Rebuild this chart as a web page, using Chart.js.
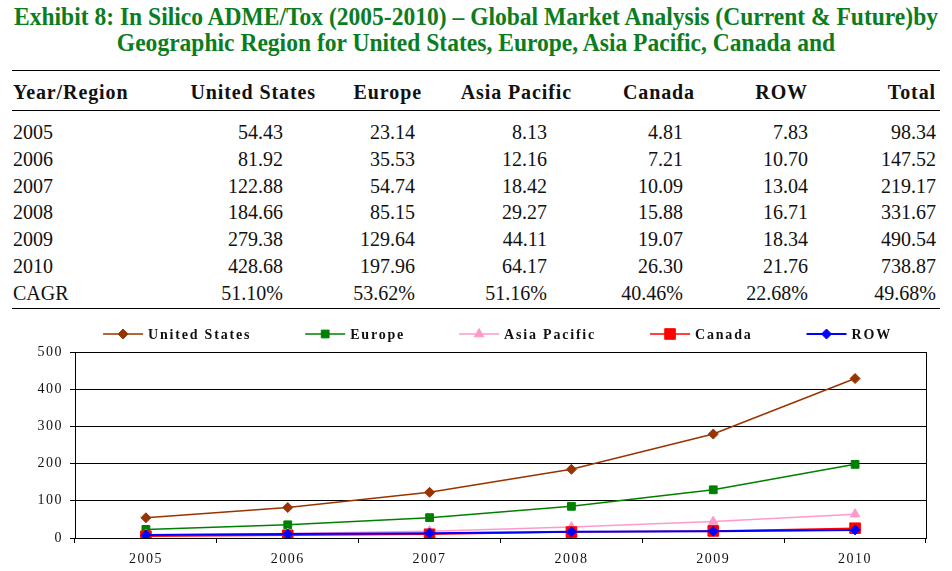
<!DOCTYPE html>
<html>
<head>
<meta charset="utf-8">
<script src="https://cdn.jsdelivr.net/npm/chart.js@4.4.0/dist/chart.umd.min.js"></script>
<style>
  body { margin: 0; background: #fff; width: 952px; height: 571px; overflow: hidden; position: relative; }
  .serif, .title, .cell { font-family: "Liberation Serif", "Times New Roman", Times, "DejaVu Serif", serif; }
  .title { position: absolute; left: 476px; color: #0b7d1f; font-weight: bold; font-size: 26px; line-height: 30px; white-space: nowrap; transform-origin: center; transform: translateX(-50%); }
  .rule { position: absolute; left: 12px; width: 928px; height: 1px; background: #000; }
  .cell { position: absolute; font-size: 20px; line-height: 24px; white-space: nowrap; color: #111; }
  .head { font-weight: bold; letter-spacing: 0.9px; }
  #wrap { position: absolute; left: 0; top: 318px; width: 952px; height: 253px; }
</style>
</head>
<body>
<div class="title" id="t1" style="top:2px">Exhibit 8: In Silico ADME/Tox (2005-2010) – Global Market Analysis (Current &amp; Future)by</div>
<div class="title" id="t2" style="top:28px">Geographic Region for United States, Europe, Asia Pacific, Canada and</div>
<div class="rule" style="top:70px"></div>
<div class="rule" style="top:110px"></div>
<div class="rule" style="top:308px"></div>
<div id="table"></div>
<div id="wrap"><canvas id="chart"></canvas></div>

<script>
// data
const years = ['2005', '2006', '2007', '2008', '2009', '2010'];
const regions = ['United States', 'Europe', 'Asia Pacific', 'Canada', 'ROW'];
const unitedStates = [54.43, 81.92, 122.88, 184.66, 279.38, 428.68];
const europe = [23.14, 35.53, 54.74, 85.15, 129.64, 197.96];
const asiaPacific = [8.13, 12.16, 18.42, 29.27, 44.11, 64.17];
const canada = [4.81, 7.21, 10.09, 15.88, 19.07, 26.30];
const restOfWorld = [7.83, 10.70, 13.04, 16.71, 18.34, 21.76];
const totals = [98.34, 147.52, 219.17, 331.67, 490.54, 738.87];
const cagr = ['51.10%', '53.62%', '51.16%', '40.46%', '22.68%', '49.68%'];
const yMax = 500;
const yStep = 100;

// squeeze the title to the width it has in the picture
const t1 = document.getElementById('t1');
const t2 = document.getElementById('t2');
const k = 924 / t1.getBoundingClientRect().width;
t1.style.transform = 'translateX(-50%) scaleX(' + k + ')';
t2.style.transform = 'translateX(-50%) scaleX(' + k + ')';

// table
const table = document.getElementById('table');
const headRight = [316, 422, 572, 695, 808, 936];
const valRight = [283, 415, 547, 683, 808, 936];
function addCell(text, top, opts) {
    const d = document.createElement('div');
    d.className = 'cell' + (opts.head ? ' head' : '');
    d.textContent = text;
    d.style.top = top + 'px';
    if (opts.left != null) d.style.left = opts.left + 'px';
    else d.style.right = (952 - opts.right) + 'px';
    table.appendChild(d);
}
addCell('Year/Region', 80, { head: true, left: 13 });
regions.concat(['Total']).forEach((r, i) => addCell(r, 80, { head: true, right: headRight[i] }));
const cols = [unitedStates, europe, asiaPacific, canada, restOfWorld, totals];
years.forEach((y, r) => {
    const top = 120 + r * 26.8;
    addCell(y, top, { left: 13 });
    cols.forEach((c, i) => addCell(c[r].toFixed(2), top, { right: valRight[i] }));
});
addCell('CAGR', 120 + 6 * 26.8, { left: 13 });
cagr.forEach((v, i) => addCell(v, 120 + 6 * 26.8, { right: valRight[i] }));

// chart
Chart.defaults.font.family = '"Liberation Serif", "Times New Roman", serif';
Chart.defaults.font.size = 14;
Chart.defaults.color = '#111';

const seriesValues = [unitedStates, europe, asiaPacific, canada, restOfWorld];
const colors = ['#993300', '#008000', '#ff99cc', '#ff0000', '#0000ff'];
const styles = ['rectRot', 'rect', 'triangle', 'rect', 'rectRot'];
const radii = [5, 5.5, 5.5, 7.5, 5];
const widths = [1.5, 1.5, 1.5, 1.5, 2];

const datasets = regions.map((name, i) => ({
    label: name,
    data: seriesValues[i],
    borderColor: colors[i],
    backgroundColor: colors[i],
    pointBackgroundColor: colors[i],
    pointBorderColor: colors[i],
    pointBorderWidth: 1,
    pointStyle: styles[i],
    pointRadius: radii[i],
    borderWidth: widths[i],
    tension: 0,
    order: regions.length - i
}));

const framePlugin = {
    id: 'frame',
    beforeDraw(chart) {
        chart.ctx.letterSpacing = '1.5px';
    },
    beforeDatasetsDraw(chart) {
        const { ctx, chartArea: a } = chart;
        ctx.save();
        ctx.strokeStyle = '#000';
        ctx.lineWidth = 1;
        ctx.beginPath();
        ctx.moveTo(Math.round(a.right) + 0.5, a.top);
        ctx.lineTo(Math.round(a.right) + 0.5, a.bottom);
        ctx.stroke();
        ctx.restore();
    },
    afterDraw(chart) {
        // legend: short line with the marker on it, then the name
        const { ctx, chartArea: a } = chart;
        ctx.save();
        ctx.font = 'bold 14px "Liberation Serif", "Times New Roman", serif';
        ctx.letterSpacing = '1.8px';
        ctx.textBaseline = 'middle';
        ctx.textAlign = 'left';
        const lineLen = 40, gapText = 5, gapItem = 54;
        const items = chart.data.datasets.map(ds => ({ ds, w: ctx.measureText(ds.label).width }));
        const total = items.reduce((s, it) => s + lineLen + gapText + it.w, 0) + gapItem * (items.length - 1);
        let x = (a.left + a.right) / 2 - total / 2 - 3;
        const y = 16;
        items.forEach(({ ds, w }) => {
            ctx.strokeStyle = ds.borderColor;
            ctx.lineWidth = ds.borderWidth;
            ctx.beginPath();
            ctx.moveTo(x, y);
            ctx.lineTo(x + lineLen, y);
            ctx.stroke();
            ctx.fillStyle = ds.pointBackgroundColor;
            ctx.strokeStyle = ds.pointBorderColor;
            ctx.lineWidth = 1;
            Chart.helpers.drawPoint(ctx, { pointStyle: ds.pointStyle, radius: ds.pointRadius, rotation: 0, borderWidth: 1 }, x + lineLen / 2, y);
            ctx.fillStyle = '#111';
            ctx.fillText(ds.label, x + lineLen + gapText, y + 1);
            x += lineLen + gapText + w + gapItem;
        });
        ctx.restore();
    }
};

new Chart(document.getElementById('chart'), {
    type: 'line',
    data: { labels: years, datasets: datasets },
    options: {
        responsive: true,
        maintainAspectRatio: false,
        animation: false,
        layout: { padding: { top: 34, right: 26, left: 0, bottom: 0 } },
        plugins: {
            legend: { display: false },
            tooltip: { enabled: false }
        },
        scales: {
            x: {
                offset: true,
                grid: { offset: true, drawOnChartArea: false, drawTicks: true, tickLength: 5, color: '#000' },
                border: { color: '#000', width: 1 },
                ticks: { padding: 8, maxRotation: 0 },
                afterFit(scale) { scale.height = 33; }
            },
            y: {
                min: 0,
                max: yMax,
                grid: { color: '#000', tickLength: 5 },
                border: { color: '#000', width: 1 },
                ticks: { stepSize: yStep, padding: 7 },
                afterFit(scale) { scale.width = 75; }
            }
        }
    },
    plugins: [framePlugin]
});
</script>
</body>
</html>
